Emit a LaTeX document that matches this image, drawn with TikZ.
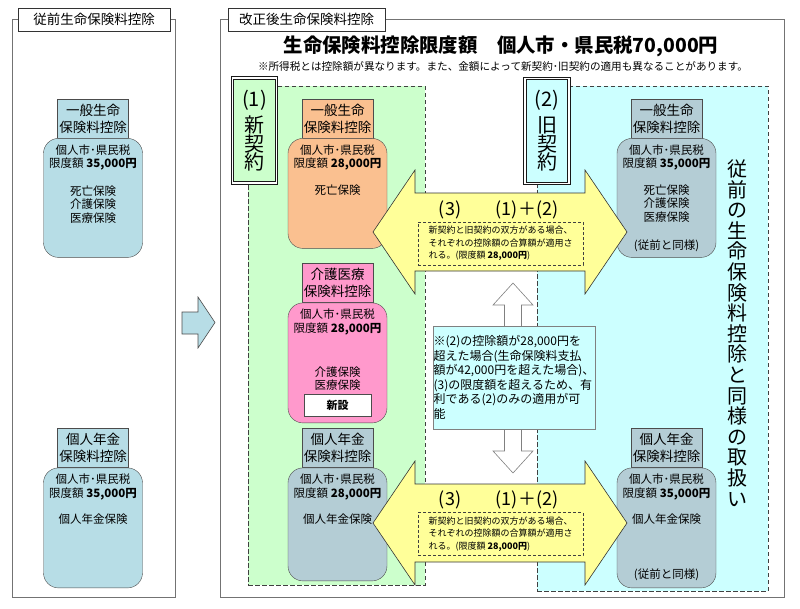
\documentclass[tikz,border=0pt]{standalone}
\usepackage{fontspec}
\setmainfont{Noto Sans CJK JP}
\usepackage{tikz}
\usetikzlibrary{positioning, fit, calc}

\definecolor{newgreen}{HTML}{CCFFCC}
\definecolor{oldcyan}{HTML}{CCFFFF}
\definecolor{lifeorange}{HTML}{FAC090}
\definecolor{carepink}{HTML}{FF99CC}
\definecolor{oldteal}{HTML}{B7DDE6}
\definecolor{keepgray}{HTML}{B4CDD5}
\definecolor{armyellow}{HTML}{FFFF99}

\begin{document}
\begin{tikzpicture}[x=1pt, y=-1pt,
  panelbox/.style={rectangle, draw=black!55, line width=0.7pt, inner sep=0pt},
  tabbox/.style={rectangle, draw=black!80, fill=white, minimum height=23, inner sep=0pt, font=\fontsize{13.5}{16}\selectfont},
  zonebox/.style={rectangle, draw=black!75, dash pattern=on 4.5pt off 2.5pt, line width=0.8pt, inner sep=0pt},
  tagbox/.style={rectangle, draw=black!90, double=white, double distance=1.5pt, line width=0.8pt, minimum width=44, minimum height=105, inner sep=0pt, align=center, font=\fontsize{20}{18.5}\selectfont},
  hdrbox/.style={rectangle, draw=black!70, minimum width=71, minimum height=39, inner sep=0pt, align=center, font=\fontsize{13.5}{17}\selectfont},
  bodybox/.style={rectangle, rounded corners=15pt, draw=black!70, minimum width=99, inner sep=0pt},
  bodytext/.style={inner sep=0pt, align=center, font=\fontsize{11.5}{13.5}\selectfont},
  bigarrow/.style={fill=armyellow, draw=black!80, line width=0.6pt},
  sumtext/.style={inner sep=0pt, font=\fontsize{18}{20}\selectfont},
  sumnote/.style={draw=black!75, dash pattern=on 3pt off 2pt, fill=armyellow, minimum width=165, minimum height=43, inner sep=0pt, align=left, font=\fontsize{9}{12.5}\selectfont}]
\useasboundingbox (0,0) rectangle (800,608);
  \node[panelbox, minimum width=163, minimum height=578] (old_frame) at (93.5,308) {};
\node[panelbox, minimum width=564, minimum height=578] (new_frame) at (502,308) {};
\node[tabbox, minimum width=152] (old_title) at (94,19.5) {従前生命保険料控除};
\node[tabbox, minimum width=157] (new_title) at (306.5,19.5) {改正後生命保険料控除};
\node[inner sep=0pt, font=\bfseries\fontsize{19.4}{22}\selectfont] (limit_title) at (501,46) {生命保険料控除限度額　個人市・県民税70,000円};
\node[inner sep=0pt, font=\fontsize{10.6}{12}\selectfont] (limit_note) at (503,66) {※所得税とは控除額が異なります。また、金額によって新契約･旧契約の適用も異なることがあります。};

\node[hdrbox, fill=oldteal] (old_life_head) at (93,118.5) {一般生命\\保険料控除};
\node[bodybox, fill=oldteal, minimum height=119, below=0pt of old_life_head] (old_life) {};
\node[bodytext, below=6pt of old_life.north] (old_life_text) {個人市･県民税\\限度額 \textbf{35,000円}\\[14pt]死亡保険\\介護保険\\医療保険};
\node[hdrbox, fill=oldteal] (old_pension_head) at (93,448) {個人年金\\保険料控除};
\node[bodybox, fill=oldteal, minimum height=120, below=0pt of old_pension_head] (old_pension) {};
\node[bodytext, below=6pt of old_pension.north] (old_pension_text) {個人市･県民税\\限度額 \textbf{35,000円}\\[13pt]個人年金保険};
\draw[fill=oldteal, draw=black!70, line width=0.6pt] (182,312) -- (198,312) -- (198,297) -- (215,322.5) -- (198,348) -- (198,334) -- (182,334) -- cycle;

\node[zonebox, fill=newgreen, minimum width=177, minimum height=499] (new_zone) at (336.5,335.5) {};
\node[zonebox, fill=oldcyan, minimum width=231, minimum height=505] (old_zone) at (652.5,338.5) {};
\node[tagbox, fill=newgreen] (new_tag) at (254.5,130.5) {(1)\\[5pt]新\\契\\約};
\node[tagbox, fill=oldcyan] (old_tag) at (547,131) {(2)\\[5pt]旧\\契\\約};

\node[hdrbox, fill=lifeorange] (new_life_head) at (337.5,118.5) {一般生命\\保険料控除};
\node[bodybox, fill=lifeorange, minimum height=110, below=0pt of new_life_head] (new_life) {};
\node[bodytext, below=6pt of new_life.north] (new_life_text) {個人市･県民税\\限度額 \textbf{28,000円}\\[13pt]死亡保険};
\node[hdrbox, fill=carepink] (new_care_head) at (337.5,283) {介護医療\\保険料控除};
\node[bodybox, fill=carepink, minimum height=120, below=0pt of new_care_head] (new_care) {};
\node[bodytext, below=6pt of new_care.north] (new_care_text) {個人市･県民税\\限度額 \textbf{28,000円}\\[30.5pt]介護保険\\医療保険};
\node[draw=black!70, fill=white, minimum width=67, minimum height=22, inner sep=0pt, font=\bfseries\fontsize{11}{13}\selectfont, above=7pt of new_care.south] (new_mark) {新設};
\node[hdrbox, fill=keepgray] (new_pension_head) at (337.5,448) {個人年金\\保険料控除};
\node[bodybox, fill=keepgray, minimum height=113, below=0pt of new_pension_head] (new_pension) {};
\node[bodytext, below=6pt of new_pension.north] (new_pension_text) {個人市･県民税\\限度額 \textbf{28,000円}\\[13pt]個人年金保険};

\node[hdrbox, fill=keepgray] (prev_life_head) at (666.5,118.5) {一般生命\\保険料控除};
\node[bodybox, fill=keepgray, minimum height=119, below=0pt of prev_life_head] (prev_life) {};
\node[bodytext, below=6pt of prev_life.north] (prev_life_text) {個人市･県民税\\限度額 \textbf{35,000円}\\[13pt]死亡保険\\介護保険\\医療保険\\[15pt](従前と同様)};
\node[hdrbox, fill=keepgray] (prev_pension_head) at (666.5,448) {個人年金\\保険料控除};
\node[bodybox, fill=keepgray, minimum height=120, below=0pt of prev_pension_head] (prev_pension) {};
\node[bodytext, below=6pt of prev_pension.north] (prev_pension_text) {個人市･県民税\\限度額 \textbf{35,000円}\\[13pt]個人年金保険\\[41pt](従前と同様)};
\node[inner sep=0pt, align=center, font=\fontsize{20}{20.6}\selectfont] (keep_text) at (737,333) {従\\前\\の\\生\\命\\保\\険\\料\\控\\除\\と\\同\\様\\の\\取\\扱\\い};

\draw[fill=white, draw=black!50, line width=0.6pt] (513,283) -- (533,305) -- (521.5,305) -- (521.5,451) -- (533,451) -- (513,473) -- (493,451) -- (504.5,451) -- (504.5,305) -- (493,305) -- cycle;
\node[draw=black!50, fill=oldcyan, minimum width=162, minimum height=103, inner sep=0pt, align=left, font=\fontsize{12}{14.5}\selectfont] (excess_note) at (514,377.5) {※(2)の控除額が28,000円を\\超えた場合(生命保険料支払\\額が42,000円を超えた場合)、\\(3)の限度額を超えるため、有\\利である(2)のみの適用が可\\能};

\draw[bigarrow] (373,232) -- (415,170) -- (415,193) -- (585,193) -- (585,170) -- (627,232) -- (585,294) -- (585,271) -- (415,271) -- (415,294) -- cycle;
\node[sumtext] (upper_three) at (450,210) {(3)};
\node[sumtext] (upper_sum) at (527,210) {(1)＋(2)};
\node[sumnote] (upper_note) at (500.5,243.5) {新契約と旧契約の双方がある場合、\\それぞれの控除額の合算額が適用さ\\れる。(限度額 \textbf{28,000円})};
\draw[bigarrow] (373,523) -- (415,461) -- (415,484) -- (585,484) -- (585,461) -- (627,523) -- (585,585) -- (585,562) -- (415,562) -- (415,585) -- cycle;
\node[sumtext] (lower_three) at (450,500) {(3)};
\node[sumtext] (lower_sum) at (527,500) {(1)＋(2)};
\node[sumnote] (lower_note) at (500.5,534) {新契約と旧契約の双方がある場合、\\それぞれの控除額の合算額が適用さ\\れる。(限度額 \textbf{28,000円})};
\end{tikzpicture}
\end{document}
